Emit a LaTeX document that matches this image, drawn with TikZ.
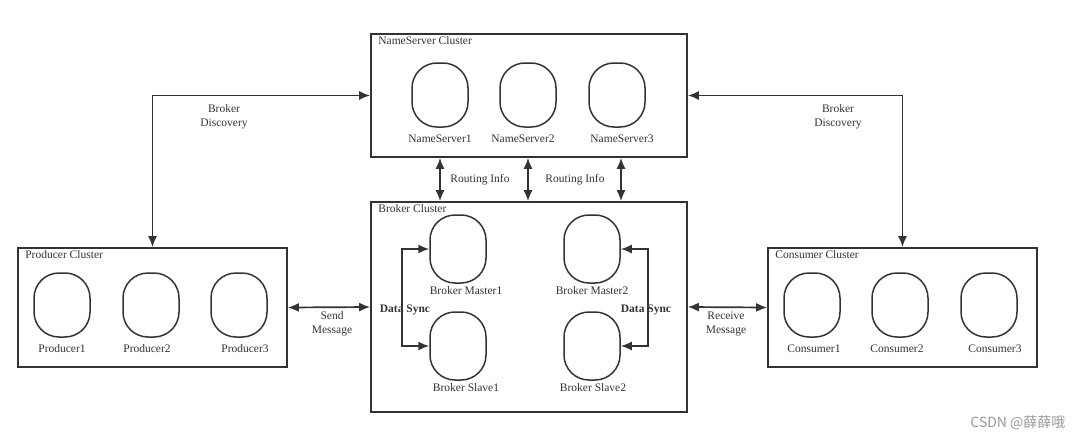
\documentclass[tikz,border=0pt]{standalone}
\usepackage{fontspec}
\setmainfont{Liberation Serif}
\newfontfamily\cjkfont{Noto Sans CJK SC}
\usetikzlibrary{arrows.meta}
\usetikzlibrary{positioning}
\definecolor{ink}{HTML}{333333}
\newcommand{\EggGap}{6pt}
\newcommand{\EggNode}[4][0]{%
  \node[egg] (#2) at (#3) {};
  \node[tag, below=\EggGap of #2, xshift=#1pt] (#2-name) {#4};}

\begin{document}
\begin{tikzpicture}[
    x=1pt, y=-1pt,
    >={Latex[length=11pt, width=9pt]},
    font=\fontsize{11.5}{14}\selectfont,
    cluster/.style={draw=ink, line width=1.7pt, minimum width=316pt, inner sep=0pt},
    egg/.style={draw=ink, line width=1.5pt, rounded corners=25pt,
      minimum width=56pt, minimum height=64pt},
    tag/.style={text=ink, inner sep=1pt, align=center},
    link/.style={<->, draw=ink, line width=1.7pt}
    ]
    \useasboundingbox (0,0) rectangle (1085,439);

    % clusters
    \node[cluster, minimum height=123pt] (ns) at (529,95.5) {};
    \node[cluster, minimum height=210pt] (broker) at (529,307) {};
    \node[cluster, minimum width=269pt, minimum height=119pt] (prod) at (152.5,307.5) {};
    \node[cluster, minimum width=269pt, minimum height=119pt] (cons) at (902.5,307.5) {};

    \node[tag, below right=2pt and 7pt of ns.north west] (nsTitle) {NameServer Cluster};
    \node[tag, below right=2pt and 7pt of broker.north west] (brokerTitle) {Broker Cluster};
    \node[tag, below right=2pt and 7pt of prod.north west] (prodTitle) {Producer Cluster};
    \node[tag, below right=2pt and 7pt of cons.north west] (consTitle) {Consumer Cluster};

    % servers
    \EggNode{ns1}{440,95}{NameServer1}
    \EggNode[-5]{ns2}{528,95}{NameServer2}
    \EggNode[5]{ns3}{617,95}{NameServer3}

    \EggNode{p1}{62,305}{Producer1}
    \EggNode[-4]{p2}{151,305}{Producer2}
    \EggNode[6]{p3}{239,305}{Producer3}

    \EggNode[2]{c1}{812,305}{Consumer1}
    \EggNode[-3]{c2}{900,305}{Consumer2}
    \EggNode[6]{c3}{989,305}{Consumer3}

    \begin{scope}[egg/.append style={minimum height=68pt}]
      \renewcommand{\EggGap}{2pt}
      \EggNode[8]{bm1}{458,249}{Broker Master1}
      \EggNode[8]{bs1}{458,346}{Broker Slave1}
      \EggNode{bm2}{592,249}{Broker Master2}
      \EggNode[1]{bs2}{592,346}{Broker Slave2}
    \end{scope}

    % connectors
    \draw[link] (prod.north) |- (ns.west);
    \draw[link] (ns.east) -| (cons.north);
    \draw[link] (prod.east) -- (broker.west);
    \draw[link] (broker.east) -- (cons.west);
    \draw[link] (ns1 |- ns.south) -- (ns1 |- broker.north);
    \draw[link] (ns2 |- ns.south) -- (ns2 |- broker.north);
    \draw[link] ([xshift=4pt]ns3 |- ns.south) -- ([xshift=4pt]ns3 |- broker.north);
    \draw[link] (bm1.west) -- ++(-27,0) |- (bs1.west);
    \draw[link] (bm2.east) -- ++(27,0) |- (bs2.east);

    % connector labels
    \node[tag] (discL) at (224,117) {Broker\\Discovery};
    \node[tag] (discR) at (838,117) {Broker\\Discovery};
    \node[tag] (route1) at (480,180) {Routing Info};
    \node[tag] (route2) at (575,180) {Routing Info};
    \node[tag] (send) at (332,324) {Send\\Message};
    \node[tag] (recv) at (726,324) {Receive\\Message};
    \node[tag, font=\fontsize{11.5}{14}\selectfont\bfseries] (sync1) at (405,310) {Data Sync};
    \node[tag, font=\fontsize{11.5}{14}\selectfont\bfseries] (sync2) at (646,310) {Data Sync};

    \node[anchor=east, text=black!40, font=\cjkfont\fontsize{14}{16}\selectfont] (mark) at (1069,423) {CSDN @薛薛哦};

  \end{tikzpicture}
\end{document}
